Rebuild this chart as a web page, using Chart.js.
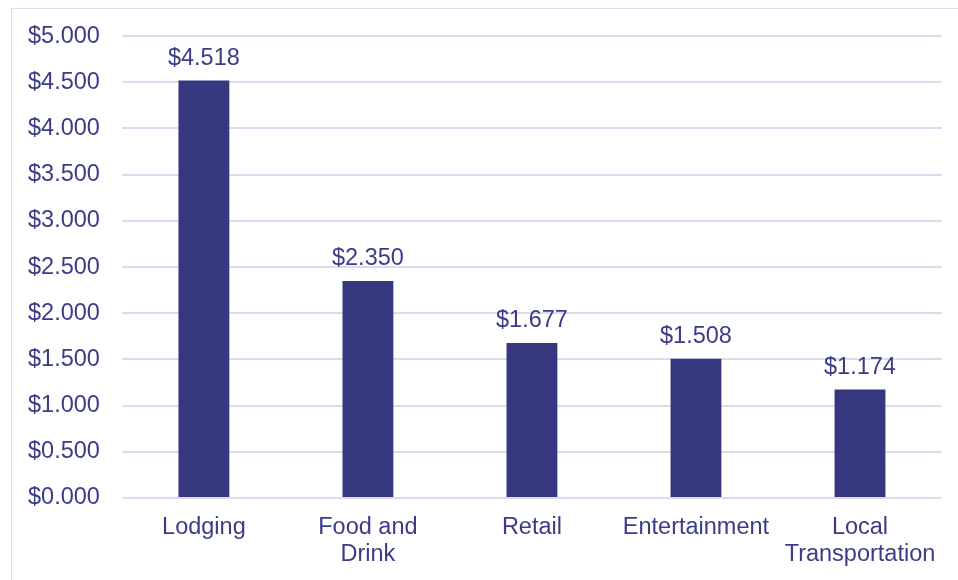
<!DOCTYPE html>
<html>
<head>
<meta charset="utf-8">
<script src="https://cdn.jsdelivr.net/npm/chart.js@4/dist/chart.umd.min.js"></script>
<style>
  body { margin: 0; background: #ffffff; }
  #wrap { position: relative; width: 958px; height: 580px; overflow: hidden; }
  #frame { position: absolute; left: 11px; top: 8px; width: 2000px; height: 2000px;
           border-left: 1px solid #dcdcf0; border-top: 1px solid #dcdcf0; }
  canvas { position: absolute; left: 0; top: 0; }
</style>
</head>
<body>
<div id="wrap">
  <div id="frame"></div>
  <canvas id="myChart" width="958" height="580"></canvas>
</div>
<script>
let categories = [['Lodging'], ['Food and', 'Drink'], ['Retail'], ['Entertainment'], ['Local', 'Transportation']];
let spending = [4.518, 2.350, 1.677, 1.508, 1.174];
let yMax = 5;
let yStep = 0.5;

let navy = '#35377f';
let textColor = '#3a3c88';
let fontFamily = '"Liberation Sans", Arial, sans-serif';
let fontSize = 23.5;

function money(v) {
    return '$' + Number(v).toFixed(3);
}

// draws the $x.xxx value above each bar
const valueLabels = {
    id: 'valueLabels',
    afterDatasetsDraw(chart) {
        const ctx = chart.ctx;
        const meta = chart.getDatasetMeta(0);
        ctx.save();
        ctx.font = fontSize + 'px ' + fontFamily;
        ctx.fillStyle = textColor;
        ctx.textAlign = 'center';
        ctx.textBaseline = 'alphabetic';
        meta.data.forEach(function(bar, i) {
            ctx.fillText(money(spending[i]), bar.x, bar.y - 16);
        });
        ctx.restore();
    }
};

let chart = new Chart('myChart', {
    type: 'bar',
    data: {
        labels: categories,
        datasets: [{
            data: spending,
            backgroundColor: navy,
            borderWidth: 0,
            categoryPercentage: 1,
            barPercentage: 0.31
        }]
    },
    options: {
        responsive: false,
        animation: false,
        layout: { padding: { left: 6, right: 16, top: 36, bottom: -4 } },
        plugins: {
            legend: { display: false },
            tooltip: { enabled: false }
        },
        scales: {
            x: {
                grid: { display: false, drawTicks: false },
                border: { display: false },
                ticks: {
                    color: textColor,
                    font: { family: fontFamily, size: fontSize, lineHeight: 1.15 },
                    padding: 16,
                    maxRotation: 0,
                    autoSkip: false
                }
            },
            y: {
                min: 0,
                max: yMax,
                grid: { color: '#dcdcf0', lineWidth: 2, drawTicks: false },
                border: { display: false },
                ticks: {
                    stepSize: yStep,
                    color: textColor,
                    font: { family: fontFamily, size: fontSize },
                    padding: 22,
                    callback: function(v) { return money(v); }
                }
            }
        }
    },
    plugins: [valueLabels]
});
</script>
</body>
</html>
